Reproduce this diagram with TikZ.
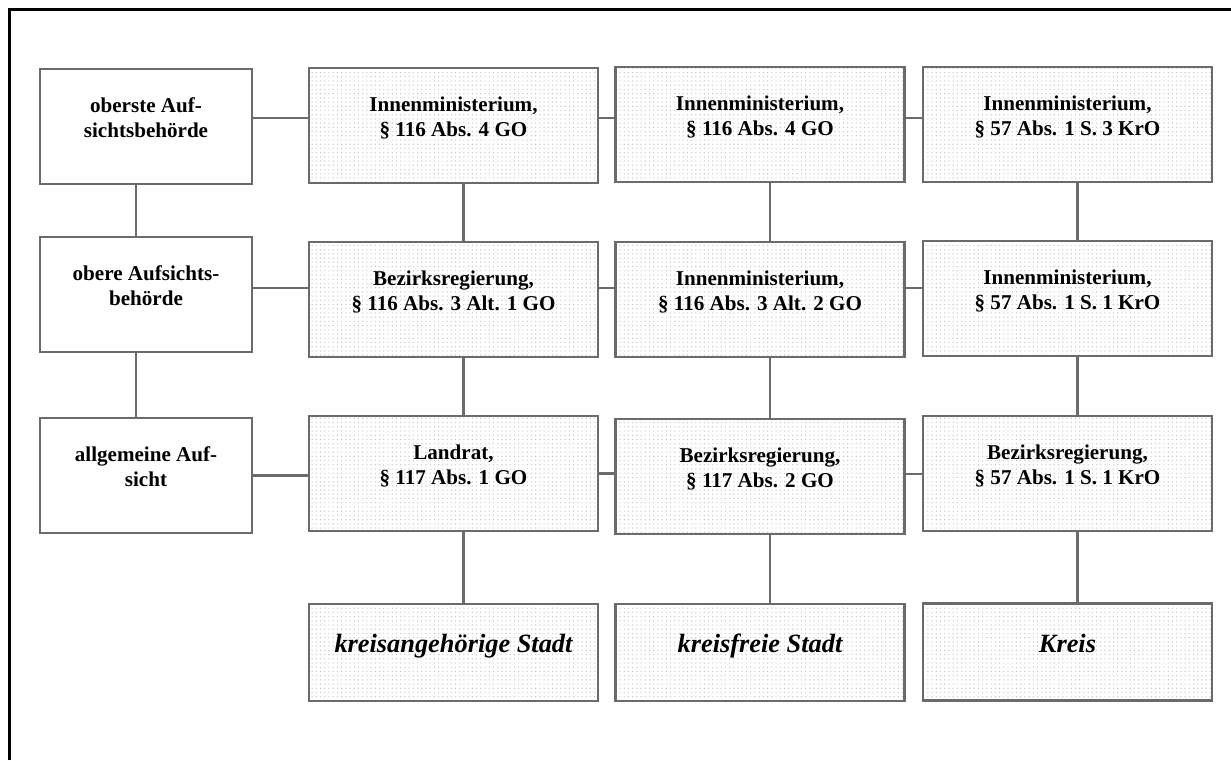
\documentclass[tikz,border=0pt]{standalone}
\usepackage{fontspec}
\setmainfont{Liberation Serif}
\usetikzlibrary{patterns.meta}

\begin{document}
\begin{tikzpicture}[
  stufe/.style={draw=black!58, line width=1.3pt, minimum width=4.24cm, minimum height=2.3cm,
    align=center, font=\bfseries\fontsize{12}{14.2}\selectfont, text height=12pt, text depth=0pt},
  amt/.style={stufe, minimum width=5.78cm, pattern={Dots[distance=2.4pt,radius=0.4pt]}, pattern color=black!22},
  gemeinde/.style={amt, minimum height=1.94cm, font=\bfseries\itshape\fontsize{15}{18}\selectfont,
    text height=6pt, text depth=6pt},
  linie/.style={draw=black!58, line width=1.3pt}
]
\useasboundingbox (0,0) rectangle (24.62,-15.2);
\draw[line width=1.3pt] (0.19,-15.2) -- (0.19,-0.19) -- (24.62,-0.19);

\node[stufe] (h1) at (2.92,-2.53) {oberste Auf-\\sichtsbehörde};
\node[stufe] (h2) at (2.92,-5.89) {obere Aufsichts-\\behörde};
\node[stufe] (h3) at (2.92,-9.51) {allgemeine Auf-\\sicht};

\node[amt] (a1) at (9.07,-2.51) {Innenministerium,\\§ 116 Abs. 4 GO};
\node[amt] (a2) at (9.07,-5.99) {Bezirksregierung,\\§ 116 Abs. 3 Alt. 1 GO};
\node[amt] (a3) at (9.07,-9.47) {Landrat,\\§ 117 Abs. 1 GO};
\node[gemeinde] (a4) at (9.07,-13.05) {kreisangehörige Stadt};

\node[amt] (b1) at (15.20,-2.49) {Innenministerium,\\§ 116 Abs. 4 GO};
\node[amt] (b2) at (15.20,-5.99) {Innenministerium,\\§ 116 Abs. 3 Alt. 2 GO};
\node[amt] (b3) at (15.20,-9.53) {Bezirksregierung,\\§ 117 Abs. 2 GO};
\node[gemeinde] (b4) at (15.20,-13.05) {kreisfreie Stadt};

\node[amt] (c1) at (21.35,-2.49) {Innenministerium,\\§ 57 Abs. 1 S. 3 KrO};
\node[amt] (c2) at (21.35,-5.97) {Innenministerium,\\§ 57 Abs. 1 S. 1 KrO};
\node[amt] (c3) at (21.35,-9.47) {Bezirksregierung,\\§ 57 Abs. 1 S. 1 KrO};
\node[gemeinde] (c4) at (21.35,-13.04) {Kreis};

% waagerecht
\draw[linie] ([yshift=1.7mm]h1.east) -- ([yshift=1.7mm]h1.east -| a1.west);
\draw[linie] ([yshift=1.5mm]a1.east) -- ([yshift=1.5mm]a1.east -| b1.west);
\draw[linie] ([yshift=1.3mm]b1.east) -- ([yshift=1.3mm]b1.east -| c1.west);
\draw[linie] ([yshift=1.3mm]h2.east) -- ([yshift=1.3mm]h2.east -| a2.west);
\draw[linie] ([yshift=2.3mm]a2.east) -- ([yshift=2.3mm]a2.east -| b2.west);
\draw[linie] ([yshift=2.3mm]b2.east) -- ([yshift=2.3mm]b2.east -| c2.west);
\draw[linie] (h3.east) -- (h3.east -| a3.west);
\draw[linie] (a3.east) -- (a3.east -| b3.west);
\draw[linie] ([yshift=0.5mm]b3.east) -- ([yshift=0.5mm]b3.east -| c3.west);

% senkrecht
\draw[linie] ([xshift=-2mm]h1.south) -- ([xshift=-2mm]h1.south |- h2.north);
\draw[linie] ([xshift=-2mm]h2.south) -- ([xshift=-2mm]h2.south |- h3.north);
\draw[linie] ([xshift=2mm]a1.south) -- ([xshift=2mm]a1.south |- a2.north);
\draw[linie] ([xshift=2mm]a2.south) -- ([xshift=2mm]a2.south |- a3.north);
\draw[linie] ([xshift=2mm]a3.south) -- ([xshift=2mm]a3.south |- a4.north);
\draw[linie] ([xshift=2mm]b1.south) -- ([xshift=2mm]b1.south |- b2.north);
\draw[linie] ([xshift=2mm]b2.south) -- ([xshift=2mm]b2.south |- b3.north);
\draw[linie] ([xshift=2mm]b3.south) -- ([xshift=2mm]b3.south |- b4.north);
\draw[linie] ([xshift=2mm]c1.south) -- ([xshift=2mm]c1.south |- c2.north);
\draw[linie] ([xshift=2mm]c2.south) -- ([xshift=2mm]c2.south |- c3.north);
\draw[linie] ([xshift=2mm]c3.south) -- ([xshift=2mm]c3.south |- c4.north);
\end{tikzpicture}
\end{document}
